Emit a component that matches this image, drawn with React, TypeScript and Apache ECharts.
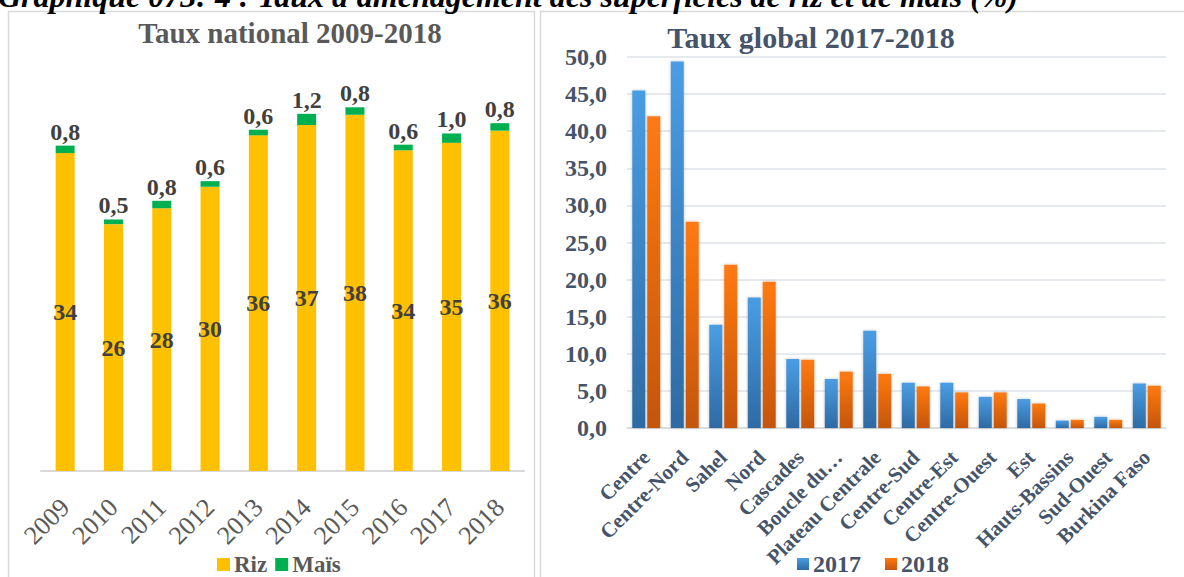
import React, { useEffect, useRef } from 'react';
import * as echarts from 'echarts';

const years = ['2009', '2010', '2011', '2012', '2013', '2014', '2015', '2016', '2017', '2018'];
const riz = [34.0, 26.4, 28.1, 30.4, 35.9, 37.0, 38.1, 34.3, 35.1, 36.4];
const mais = [0.8, 0.5, 0.8, 0.6, 0.6, 1.2, 0.8, 0.6, 1.0, 0.8];

const regions = ['Centre', 'Centre-Nord', 'Sahel', 'Nord', 'Cascades', 'Boucle du…', 'Plateau Centrale', 'Centre-Sud', 'Centre-Est', 'Centre-Ouest', 'Est', 'Hauts-Bassins', 'Sud-Ouest', 'Burkina Faso'];
const taux2017 = [45.5, 49.4, 13.9, 17.6, 9.3, 6.6, 13.1, 6.1, 6.1, 4.2, 3.9, 1.0, 1.5, 6.0];
const taux2018 = [42.0, 27.8, 22.0, 19.7, 9.2, 7.6, 7.3, 5.6, 4.8, 4.8, 3.3, 1.1, 1.1, 5.7];

const pageTitle = "Graphique 073: 4 : Taux d'aménagement des superficies de riz et de maïs (%)";
const leftTitle = 'Taux national 2009-2018';
const rightTitle = 'Taux global 2017-2018';

const SERIF = 'Liberation Serif';
const comma1 = (v: number) => v.toFixed(1).replace('.', ',');

export default function App() {
  const ref = useRef<HTMLDivElement>(null);
  useEffect(() => {
    if (!ref.current) return;
    const chart = echarts.init(ref.current, undefined, { renderer: 'svg' });
    const blue = new echarts.graphic.LinearGradient(0, 0, 0, 1, [
      { offset: 0, color: '#4A9DE4' },
      { offset: 1, color: '#2E6AA3' },
    ]);
    const orange = new echarts.graphic.LinearGradient(0, 0, 0, 1, [
      { offset: 0, color: '#FF7A12' },
      { offset: 1, color: '#C4550E' },
    ]);
    chart.setOption({
      animation: false,
      backgroundColor: '#ffffff',
      textStyle: { fontFamily: SERIF },
      graphic: [
        { type: 'rect', silent: true, shape: { x: 8.5, y: 11.5, width: 526, height: 600 }, style: { fill: 'none', stroke: '#D9D9D9', lineWidth: 1.5 } },
        { type: 'rect', silent: true, shape: { x: 540.5, y: 11.5, width: 700, height: 600 }, style: { fill: 'none', stroke: '#D9D9D9', lineWidth: 1.5 } },
        { type: 'text', silent: true, x: -2, y: -4, style: { text: pageTitle, fontFamily: SERIF, fontSize: 32, fontWeight: 'bold', fontStyle: 'italic', fill: '#000000', align: 'left', verticalAlign: 'middle' } },
        { type: 'text', silent: true, x: 290, y: 33, style: { text: leftTitle, fontFamily: SERIF, fontSize: 29, fontWeight: 'bold', fill: '#595959', align: 'center', verticalAlign: 'middle' } },
        { type: 'text', silent: true, x: 811, y: 37, style: { text: rightTitle, fontFamily: SERIF, fontSize: 30, fontWeight: 'bold', fill: '#44546A', align: 'center', verticalAlign: 'middle' } },
      ],
      legend: [
        {
          data: ['Riz', 'Maïs'], left: 212, top: 548, icon: 'rect', itemWidth: 13, itemHeight: 13, itemGap: 8,
          textStyle: { fontFamily: SERIF, fontSize: 23, fontWeight: 'bold', color: '#595959', padding: [0, 0, 0, -1] },
        },
        {
          data: ['2017', '2018'], left: 792, top: 547, icon: 'rect', itemWidth: 12, itemHeight: 12, itemGap: 24,
          textStyle: { fontFamily: SERIF, fontSize: 24, fontWeight: 'bold', color: '#44546A', padding: [0, 0, 0, -1] },
        },
      ],
      grid: [
        { left: 41, top: 97, width: 483, height: 374 },
        { left: 627, top: 57, width: 539, height: 371 },
      ],
      xAxis: [
        {
          gridIndex: 0, type: 'category', data: years,
          axisLine: { lineStyle: { color: '#D9D9D9', width: 2 } },
          axisTick: { show: false },
          axisLabel: { rotate: 45, interval: 0, fontFamily: SERIF, fontSize: 26, color: '#595959', margin: 32 },
        },
        {
          gridIndex: 1, type: 'category', data: regions,
          axisLine: { lineStyle: { color: '#D9D9D9', width: 1.5 } },
          axisTick: { show: false },
          axisLabel: { rotate: 45, interval: 0, fontFamily: SERIF, fontSize: 21, fontWeight: 'bold', color: '#44546A', margin: 26 },
        },
      ],
      yAxis: [
        { gridIndex: 0, type: 'value', min: 0, max: 40, show: false },
        {
          gridIndex: 1, type: 'value', min: 0, max: 50, interval: 5,
          axisLine: { show: false }, axisTick: { show: false },
          axisLabel: { formatter: (v: number) => comma1(v), fontFamily: SERIF, fontSize: 24, fontWeight: 'bold', color: '#44546A', margin: 20 },
          splitLine: { lineStyle: { color: '#DEE2E8', width: 1.5 } },
        },
      ],
      series: [
        {
          name: 'Riz', type: 'bar', stack: 'nat', xAxisIndex: 0, yAxisIndex: 0, data: riz, barWidth: 19,
          itemStyle: { color: '#FFC000' },
          label: { show: true, position: 'inside', formatter: (p: any) => String(Math.round(p.value)), fontFamily: SERIF, fontSize: 24, fontWeight: 'bold', color: '#404040' },
        },
        {
          name: 'Maïs', type: 'bar', stack: 'nat', xAxisIndex: 0, yAxisIndex: 0, data: mais, barWidth: 19,
          itemStyle: { color: '#00B050' },
          label: { show: true, position: 'top', distance: 2, formatter: (p: any) => comma1(p.value), fontFamily: SERIF, fontSize: 24, fontWeight: 'bold', color: '#404040' },
        },
        {
          name: '2017', type: 'bar', xAxisIndex: 1, yAxisIndex: 1, data: taux2017, barWidth: 13, barGap: '15%',
          itemStyle: { color: blue, shadowColor: 'rgba(0,0,0,0.25)', shadowBlur: 3 },
        },
        {
          name: '2018', type: 'bar', xAxisIndex: 1, yAxisIndex: 1, data: taux2018, barWidth: 13, barGap: '15%',
          itemStyle: { color: orange, shadowColor: 'rgba(0,0,0,0.25)', shadowBlur: 3 },
        },
      ],
    });
    return () => chart.dispose();
  }, []);
  return <div ref={ref} style={{ position: 'absolute', left: 0, top: 0, width: 1184, height: 577 }} />;
}
